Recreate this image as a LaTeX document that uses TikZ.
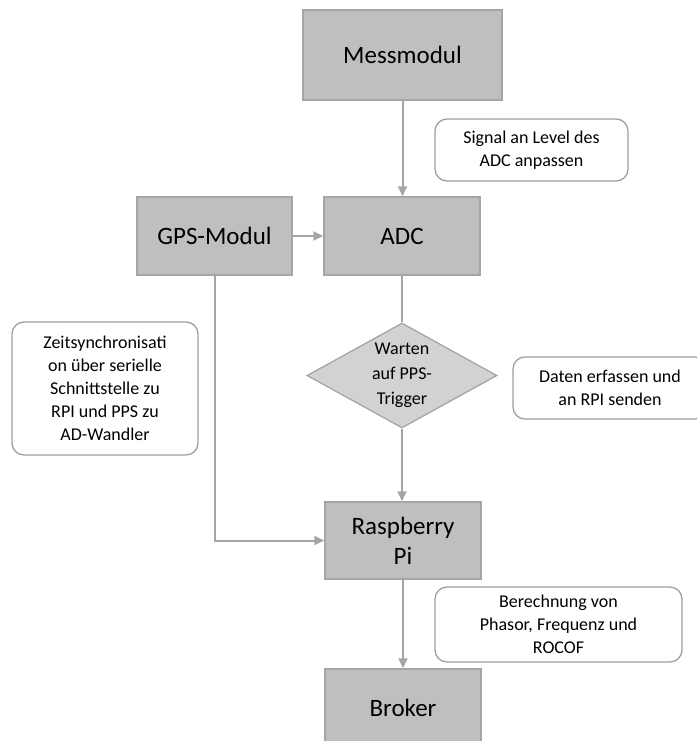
\documentclass[tikz,border=0pt]{standalone}
\usepackage{fontspec}
\setmainfont{Carlito}
\usetikzlibrary{arrows.meta,shapes.geometric}
\definecolor{boxfill}{HTML}{BFBFBF}
\definecolor{boxline}{HTML}{A5A5A5}
\definecolor{noteline}{HTML}{A0A0A0}
\begin{document}
\begin{tikzpicture}[x=1pt,y=-1pt,
  procbox/.style={draw=boxline,line width=1.5pt,fill=boxfill,align=center,
    font=\fontsize{25}{30}\selectfont,minimum width=156pt,minimum height=78pt,inner sep=0pt},
  notebox/.style={draw=noteline,line width=1.3pt,rounded corners=12pt,fill=white,align=center,
    font=\fontsize{18}{23}\selectfont,inner sep=0pt},
  decision/.style={diamond,draw=boxline,line width=1.3pt,fill=boxfill!70,align=center,
    font=\fontsize{18}{25}\selectfont,aspect=1.8,inner sep=-8pt,minimum width=190pt,minimum height=105pt},
  flow/.style={draw=boxline,line width=2pt,-{Triangle[length=10pt,width=9pt]}}]
\useasboundingbox (0,0) rectangle (697,741);
\clip (0,0) rectangle (697,741);
\node[procbox,minimum width=199pt,minimum height=90pt] (mess) at (402.5,55) {Messmodul};
\node[notebox,minimum width=193pt,minimum height=62pt] (signal) at (531.5,150) {Signal an Level des\\ADC anpassen};
\node[procbox,minimum width=155pt] (gps) at (214.5,236) {GPS-Modul};
\node[procbox] (adc) at (402,236) {ADC};
\node[notebox,minimum width=186pt,minimum height=133pt] (zeit) at (105,388.5)
  {Zeitsynchronisati\\on über serielle\\Schnittstelle zu\\RPI und PPS zu\\AD-Wandler};
\node[decision] (pps) at (402,375.5) {Warten\\auf PPS-\\Trigger};
\node[notebox,minimum width=194pt,minimum height=62pt] (daten) at (610,388) {Daten erfassen und\\an RPI senden};
\node[procbox,minimum height=77pt] (rpi) at (403,540.5) {Raspberry\\Pi};
\node[notebox,minimum width=247pt,minimum height=75pt] (calc) at (558.5,624.5)
  {Berechnung von\\Phasor, Frequenz und\\ROCOF};
\node[procbox] (broker) at (403,708) {Broker};
\draw[flow] (mess.south) -- (mess.south |- adc.north);
\draw[flow] (gps.east) -- (adc.west);
\draw[draw=boxline,line width=2pt] (adc.south -| pps.north) -- (pps.north);
\draw[flow] (pps.south) -- (pps.south |- rpi.north);
\draw[flow] (gps.south) |- (rpi.west);
\draw[flow] (rpi.south) -- (broker.north);
\end{tikzpicture}
\end{document}
